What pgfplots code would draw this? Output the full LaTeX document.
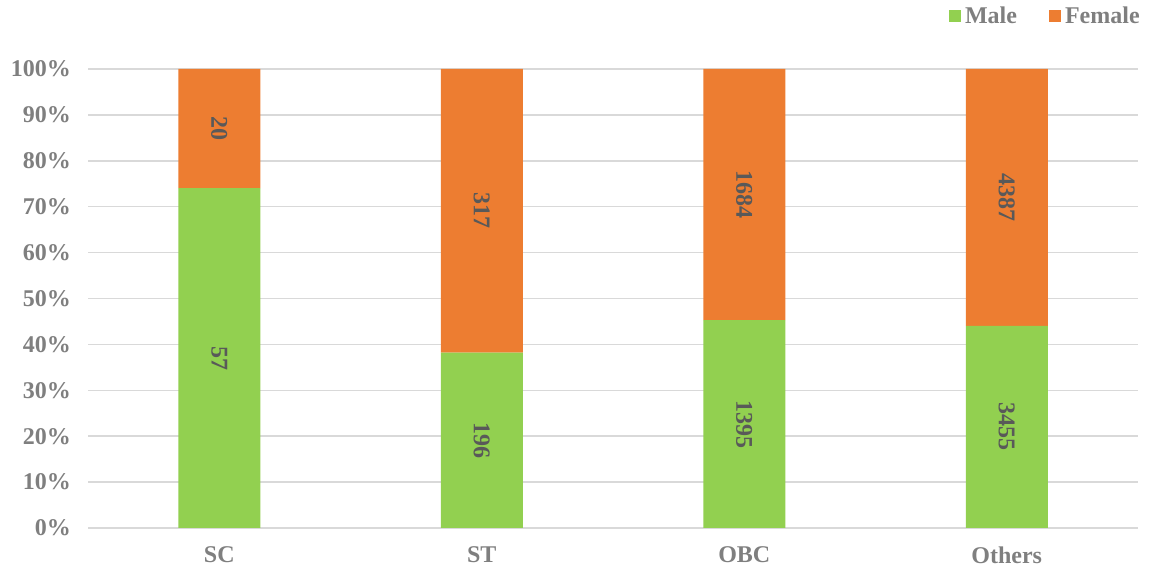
\documentclass[border=0pt]{standalone}
\usepackage{pgfplots}
\pgfplotsset{compat=1.18}
\usepackage{pgfplotstable}
\usepackage{fontspec}
\setmainfont{Liberation Serif}
\definecolor{male}{HTML}{92D050}
\definecolor{female}{HTML}{ED7D31}
\definecolor{tickc}{HTML}{7F7F7F}
\definecolor{labc}{HTML}{595959}
\definecolor{gridc}{HTML}{D9D9D9}
\pgfplotstableread{
x male female mc fc
0 74.03 25.97 57 20
1 38.21 61.79 196 317
2 45.31 54.69 1395 1684
3 44.06 55.94 3455 4387
}\data
\begin{document}
\begin{tikzpicture}
\useasboundingbox (0,0) rectangle (576.5pt,285.5pt);
\begin{axis}[
 at={(44pt,21.5pt)}, anchor=south west,
 scale only axis, width=525pt, height=229.5pt,
 ybar stacked, bar width=41pt,
 xmin=-0.5, xmax=3.5, ymin=0, ymax=100,
 xtick={0,1,2,3}, xticklabels={SC,ST,OBC,Others},
 ytick={0,10,...,100},
 /pgf/number format/assume math mode=true,
 yticklabel={\pgfmathprintnumber{\tick}\%},
 ymajorgrids, grid style={draw=gridc, line width=0.75pt},
 axis line style={draw=none},
 major tick length=0pt,
 tick label style={font=\fontsize{12}{14}\selectfont\bfseries, text=tickc},
 yticklabel style={xshift=-5pt},
 xticklabel style={yshift=-6pt},
 legend columns=2,
 legend style={draw=none, fill=none, at={(1.0115,1.115)}, anchor=east,
   font=\fontsize{12}{14}\selectfont\bfseries, text=tickc,
   /tikz/every even column/.append style={column sep=14pt}},
 legend image code/.code={\fill[#1] (-1pt,-3pt) rectangle (5pt,3pt);},
 every node near coord/.append style={font=\fontsize{12}{14}\selectfont\bfseries, text=labc},
]
\addplot[fill=male, draw=none, nodes near coords, point meta=explicit symbolic,
  every node near coord/.append style={rotate=-90, anchor=center}]
  table[x=x, y=male, meta=mc]{\data};
\addlegendentry{Male}
\addplot[fill=female, draw=none, nodes near coords, point meta=explicit symbolic,
  every node near coord/.append style={rotate=-90, anchor=center}]
  table[x=x, y=female, meta=fc]{\data};
\addlegendentry{Female}
\end{axis}
\end{tikzpicture}
\end{document}
